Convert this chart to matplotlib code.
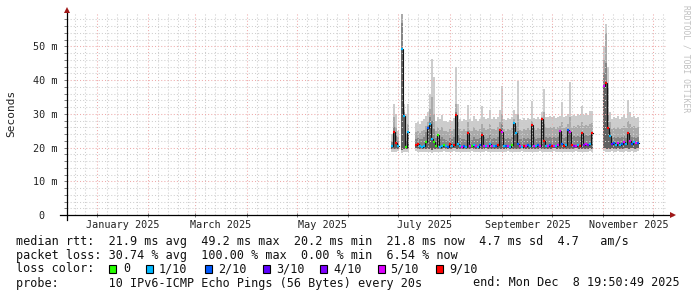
import numpy as np
import pandas as pd
import matplotlib
matplotlib.use('Agg')
import matplotlib.pyplot as plt
import matplotlib.dates as mdates
from matplotlib.ticker import MultipleLocator, FuncFormatter, NullFormatter
from matplotlib.patches import Rectangle

nan = np.nan

# ---------------- data ----------------
END = pd.Timestamp('2025-12-08 19:50:49')
START = END - pd.Timedelta(days=360)
BIN_START = pd.Timestamp('2025-06-26 12:00')
BIN_HOURS = 28.8

loss_labels = ['0', '1/10', '2/10', '3/10', '4/10', '5/10', '9/10']
loss_colors = ['#26ff00', '#00b8ff', '#0059ff', '#5e00ff', '#7e00ff', '#dd00ff', '#ff0000']

# median rtt per bin (ms)
median_ms = [
    20.5, 24.5, 21.3, 20.6, nan, 49.2, 29.5, 20.3, 24.5, nan,
    nan, nan, 20.8, 21.0, 20.6, 20.3, 20.5, 21.5, 25.8, 27.0,
    22.5, 21.5, 20.4, 23.7, 20.2, 20.6, 20.8, 20.4, 20.3, 21.0,
    20.5, 20.8, 29.7, 21.2, 20.5, 20.3, 20.6, 20.2, 24.4, 20.6,
    20.4, 20.7, 20.5, 20.3, 20.8, 23.7, 20.6, 20.4, 20.5, 21.0,
    20.6, 20.4, 20.5, 20.8, 25.2, 24.7, 20.6, 20.4, 20.5, 20.3,
    20.7, 27.4, 24.4, 21.0, 20.5, 20.3, 20.6, 20.4, 20.8, 20.5,
    26.7, 20.6, 20.4, 20.7, 20.5, 28.4, 22.0, 20.6, 20.4, 20.8,
    20.5, 20.6, 20.4, 20.7, 24.8, 21.0, 20.5, 20.7, 25.2, 24.7,
    20.8, 20.6, 20.5, 20.9, 20.6, 24.4, 20.8, 21.0, 20.7, 21.2,
    24.3, nan, nan, nan, nan, nan, 38.3, 39.0, 25.7, 23.4,
    21.0, 21.3, 20.8, 21.4, 20.9, 21.2, 21.5, 21.0, 24.2, 21.8,
    21.2, 21.5, 21.3, 21.4]

# loss class per bin (index into loss_colors, -1 = no data)
loss_idx = [
    1, 6, 6, 1, -1, 1, 1, 0, 1, -1,
    -1, -1, 6, 6, 1, 1, 1, 0, 2, 1,
    1, 0, 0, 0, 1, 1, 0, 1, 2, 6,
    1, 6, 6, 1, 1, 5, 2, 1, 6, 5,
    0, 1, 5, 1, 2, 6, 5, 1, 5, 1,
    5, 1, 2, 6, 6, 5, 1, 2, 5, 1,
    0, 1, 1, 2, 5, 1, 6, 5, 2, 1,
    6, 5, 1, 2, 5, 6, 6, 1, 5, 2,
    6, 5, 1, 5, 5, 2, 6, 1, 2, 5,
    6, 4, 5, 1, 6, 6, 4, 5, 4, 1,
    6, -1, -1, -1, -1, -1, 5, 6, 6, 1,
    3, 2, 1, 5, 1, 2, 5, 1, 6, 5,
    2, 1, 5, 2]

# smoke: 9th ping (top of light band)
p9_ms = [
    24.0, 33.0, 30.0, 25.0, nan, 59.6, 33.0, 30.0, 33.0, nan,
    nan, nan, 27.3, 27.5, 27.0, 27.8, 28.5, 29.5, 30.5, 36.0,
    46.3, 41.0, 28.0, 29.0, 28.5, 29.7, 27.8, 28.0, 27.5, 28.3,
    28.0, 28.8, 44.0, 33.0, 28.5, 28.0, 28.6, 28.2, 32.7, 28.5,
    28.0, 29.5, 28.4, 28.0, 28.6, 32.4, 29.0, 28.5, 28.8, 31.2,
    28.6, 29.0, 28.4, 29.2, 31.0, 38.4, 28.6, 28.2, 28.8, 28.4,
    29.0, 31.0, 30.0, 39.6, 28.5, 28.2, 28.8, 28.3, 28.9, 28.5,
    33.9, 28.7, 28.4, 29.0, 28.6, 30.5, 37.3, 29.2, 29.0, 29.4,
    29.0, 29.3, 28.8, 29.2, 29.5, 33.4, 29.0, 29.3, 30.0, 39.3,
    29.5, 29.8, 29.4, 30.0, 29.6, 32.4, 29.8, 30.2, 29.8, 30.7,
    30.7, nan, nan, nan, nan, nan, 50.0, 56.7, 44.0, 30.5,
    28.5, 29.2, 28.8, 29.5, 28.6, 29.0, 29.8, 28.8, 34.0, 30.5,
    29.0, 29.5, 28.8, 29.2]

# 8th ping (top of medium band)
p8_ms = [
    22.0, 29.0, 26.0, 23.0, nan, 59.5, 31.0, 24.0, 27.0, nan,
    nan, nan, 24.5, 24.8, 24.2, 25.0, 25.2, 26.5, 28.0, 31.5,
    35.0, 30.0, 25.0, 26.0, 25.2, 26.0, 24.8, 25.0, 24.5, 25.5,
    25.0, 25.6, 33.0, 27.5, 25.5, 25.0, 25.4, 25.0, 27.5, 25.2,
    25.0, 26.0, 25.3, 25.0, 25.5, 27.0, 25.8, 25.2, 25.5, 27.0,
    25.4, 25.6, 25.2, 26.0, 27.5, 30.0, 25.4, 25.0, 25.5, 25.2,
    25.8, 28.5, 26.5, 30.0, 25.3, 25.0, 25.6, 25.1, 25.7, 25.3,
    28.0, 25.8, 25.2, 25.8, 25.4, 29.0, 30.5, 26.0, 25.8, 26.2,
    25.8, 26.0, 25.6, 26.0, 26.5, 27.5, 25.8, 26.2, 27.0, 29.0,
    26.2, 26.5, 26.0, 26.6, 26.3, 27.5, 26.5, 26.8, 26.5, 27.0,
    27.2, nan, nan, nan, nan, nan, 46.0, 54.0, 38.0, 27.5,
    25.5, 26.0, 25.6, 26.2, 25.5, 25.8, 26.5, 25.8, 28.0, 27.0,
    26.0, 26.3, 25.8, 26.0]

# 7th ping (top of dark band)
p7_ms = [
    21.5, 26.0, 23.5, 22.0, nan, 57.0, 30.5, 22.0, 25.0, nan,
    nan, nan, 22.5, 22.8, 22.4, 22.6, 23.0, 24.5, 26.5, 29.0,
    28.0, 25.5, 22.8, 24.0, 22.5, 23.0, 22.5, 22.3, 22.0, 22.8,
    22.4, 23.0, 30.5, 24.0, 22.8, 22.5, 22.6, 22.3, 25.0, 22.6,
    22.3, 23.0, 22.5, 22.4, 22.8, 24.5, 23.0, 22.5, 22.8, 24.0,
    22.6, 22.8, 22.5, 23.2, 25.5, 27.0, 22.8, 22.4, 22.7, 22.5,
    23.0, 27.6, 24.6, 25.0, 22.6, 22.4, 22.8, 22.5, 22.9, 22.6,
    27.0, 23.0, 22.6, 22.9, 22.7, 28.6, 27.0, 23.0, 22.8, 23.2,
    22.8, 23.0, 22.7, 23.0, 24.9, 24.0, 22.8, 23.2, 25.4, 25.0,
    23.2, 23.4, 23.0, 23.5, 23.2, 24.6, 23.4, 23.6, 23.3, 23.8,
    24.5, nan, nan, nan, nan, nan, 42.0, 45.0, 30.0, 24.5,
    22.8, 23.0, 22.8, 23.2, 22.7, 23.0, 23.4, 22.9, 24.6, 23.8,
    23.0, 23.2, 22.9, 23.0]

# 2nd ping (bottom of light band)
lo_ms = [
    18.8, 18.6, 18.7, 18.9, nan, 18.5, 18.7, 18.8, 18.6, nan,
    nan, nan, 18.9, 18.8, 18.7, 18.6, 18.8, 18.7, 18.6, 18.8,
    18.5, 18.7, 18.8, 18.6, 18.7, 18.8, 18.9, 18.7, 18.6, 18.8,
    18.7, 18.9, 18.6, 18.7, 18.8, 18.6, 18.7, 18.8, 18.6, 18.7,
    18.9, 18.8, 18.7, 18.6, 18.8, 18.7, 18.8, 18.9, 18.7, 18.6,
    18.8, 18.7, 18.6, 18.8, 18.7, 18.6, 18.8, 18.7, 18.9, 18.8,
    18.6, 18.7, 18.8, 18.6, 18.7, 18.9, 18.8, 18.6, 18.7, 18.8,
    18.7, 18.6, 18.8, 18.7, 18.9, 18.6, 18.7, 18.8, 18.6, 18.7,
    18.8, 18.9, 18.7, 18.6, 18.8, 18.7, 18.6, 18.8, 18.7, 18.6,
    18.8, 18.7, 18.9, 18.6, 18.8, 18.7, 18.6, 18.8, 18.7, 18.9,
    18.8, nan, nan, nan, nan, nan, 18.9, 18.7, 18.8, 18.6,
    18.9, 18.8, 18.7, 18.9, 18.8, 18.6, 18.8, 18.9, 18.7, 18.8,
    18.9, 18.7, 18.8, 18.9]

# 4th ping (bottom of dark bands)
lo2_ms = [
    19.6, 19.5, 19.6, 19.7, nan, 19.4, 19.6, 19.7, 19.5, nan,
    nan, nan, 19.8, 19.7, 19.6, 19.5, 19.7, 19.6, 19.5, 19.7,
    19.4, 19.6, 19.7, 19.5, 19.6, 19.7, 19.8, 19.6, 19.5, 19.7,
    19.6, 19.8, 19.5, 19.6, 19.7, 19.5, 19.6, 19.7, 19.5, 19.6,
    19.8, 19.7, 19.6, 19.5, 19.7, 19.6, 19.7, 19.8, 19.6, 19.5,
    19.7, 19.6, 19.5, 19.7, 19.6, 19.5, 19.7, 19.6, 19.8, 19.7,
    19.5, 19.6, 19.7, 19.5, 19.6, 19.8, 19.7, 19.5, 19.6, 19.7,
    19.6, 19.5, 19.7, 19.6, 19.8, 19.5, 19.6, 19.7, 19.5, 19.6,
    19.7, 19.8, 19.6, 19.5, 19.7, 19.6, 19.5, 19.7, 19.6, 19.5,
    19.7, 19.6, 19.8, 19.5, 19.7, 19.6, 19.5, 19.7, 19.6, 19.8,
    19.7, nan, nan, nan, nan, nan, 19.8, 19.6, 19.7, 19.5,
    19.8, 19.7, 19.6, 19.8, 19.7, 19.5, 19.7, 19.8, 19.6, 19.7,
    19.8, 19.6, 19.7, 19.8]

y_ticks_ms = [0, 10, 20, 30, 40, 50]
x_label_months = ['2025-01', '2025-03', '2025-05', '2025-07', '2025-09', '2025-11']

stats_rows = [
    "median rtt:  21.9 ms avg  49.2 ms max  20.2 ms min  21.8 ms now  4.7 ms sd  4.7   am/s",
    "packet loss: 30.74 % avg  100.00 % max  0.00 % min  6.54 % now",
    "loss color:",
    "probe:       10 IPv6-ICMP Echo Pings (56 Bytes) every 20s",
]
end_text = "end: Mon Dec  8 19:50:49 2025"

# ---------------- figure ----------------
W, H = 697, 297
fig = plt.figure(figsize=(W / 100, H / 100), dpi=100)
fig.patch.set_facecolor('white')
MONO = 'DejaVu Sans Mono'

L, B, PW, PH = 66.5, 82, 600, 202
ax = fig.add_axes([L / W, B / H, PW / W, PH / H])
ax.set_facecolor('white')

x0 = mdates.date2num(START.to_pydatetime())
x1 = mdates.date2num(END.to_pydatetime())
ax.set_xlim(x0, x1)
ax.set_ylim(0, 59.9)

med = np.array(median_ms)
p9 = np.array(p9_ms); p8 = np.array(p8_ms); p7 = np.array(p7_ms)
lo = np.array(lo_ms); lo2 = np.array(lo2_ms)
loss = np.array(loss_idx)
n = len(med)
times = pd.date_range(BIN_START, periods=n, freq=pd.Timedelta(hours=BIN_HOURS))
tl = mdates.date2num(times.to_pydatetime())
bw = BIN_HOURS / 24.0
tr = tl + bw

# smoke bands
for bottom, top, col in [(lo, p9, '#cccccc'), (lo2, p8, '#aaaaaa'),
                         (lo2, p7, '#858585'), (lo2, med, '#606060')]:
    ok = ~np.isnan(top)
    ax.bar(tl[ok], (top - bottom)[ok], bottom=bottom[ok], width=bw, align='edge',
           color=col, linewidth=0, zorder=2)

# median connecting line (black steps)
xs = np.column_stack([tl, tr]).ravel()
ys = np.column_stack([med, med]).ravel()
ax.plot(xs, ys, color='#151515', lw=0.8, zorder=3, solid_joinstyle='miter')

# colored median segments
for ci, col in enumerate(loss_colors):
    m = (loss == ci) & ~np.isnan(med)
    if m.any():
        ax.hlines(med[m], tl[m], tr[m], colors=col, lw=1.6, zorder=4)

# grid
ax.xaxis.set_major_locator(mdates.MonthLocator())
ax.xaxis.set_minor_locator(mdates.DayLocator(bymonthday=[7, 13, 19, 25]))
ax.yaxis.set_major_locator(MultipleLocator(10))
ax.yaxis.set_minor_locator(MultipleLocator(2))
ax.grid(which='major', color='#eeaaaa', linestyle=(0, (1, 2)), linewidth=0.75, zorder=5)
ax.grid(which='minor', color='#cfcfcf', linestyle=(0, (1, 2)), linewidth=0.75, zorder=5)
ax.set_axisbelow(False)

ax.xaxis.set_major_formatter(NullFormatter())
ax.xaxis.set_minor_formatter(NullFormatter())
ax.yaxis.set_major_formatter(FuncFormatter(lambda v, p: '0  ' if v == 0 else f'{v:.0f} m'))
ax.tick_params(axis='y', which='both', direction='out', length=2, width=0.6, color='#666666')
ax.tick_params(axis='x', which='major', direction='inout', length=3, width=0.6, color='#666666')
ax.tick_params(axis='x', which='minor', length=0)
ax.tick_params(axis='y', which='major', labelsize=7.3, pad=4.5, labelcolor='#222222')
for t in ax.get_yticklabels():
    t.set_family(MONO)

for s in ax.spines.values():
    s.set_visible(False)

# axis lines with arrows
ax.plot([-7 / PW, 1 + 6 / PW], [0, 0], transform=ax.transAxes, color='#000000', lw=0.9,
        clip_on=False, zorder=6)
ax.plot([0, 0], [-5 / PH, 1 + 3 / PH], transform=ax.transAxes, color='#000000', lw=0.9,
        clip_on=False, zorder=6)
ax.plot([1 + 6 / PW], [0], marker='>', ms=4.5, color='#a01818', transform=ax.transAxes,
        clip_on=False, zorder=7, markeredgewidth=0)
ax.plot([0], [1 + 3 / PH], marker='^', ms=4.5, color='#a01818', transform=ax.transAxes,
        clip_on=False, zorder=7, markeredgewidth=0)

# month labels
for mstr in x_label_months:
    mid = pd.Timestamp(mstr + '-01') + pd.Timedelta(days=15.5)
    ax.text(mdates.date2num(mid.to_pydatetime()), -10 / PH, pd.Timestamp(mstr + '-01').strftime('%B %Y'),
            transform=ax.get_xaxis_transform(), ha='center', va='center',
            family=MONO, fontsize=7.3, color='#222222')

# y label
fig.text(11 / W, 1 - 113 / H, 'Seconds', rotation=90, ha='center', va='center',
         family=MONO, fontsize=8.0, color='#222222')

# watermark
fig.text(686 / W, 1 - 5 / H, 'RRDTOOL / TOBI OETIKER', rotation=270, ha='center', va='top',
         family=MONO, fontsize=5.8, color='#c0c0c0')

# legend rows
row_y = [241, 255, 269, 283]
for txt, yy in zip(stats_rows, row_y):
    fig.text(16 / W, 1 - yy / H, txt, ha='left', va='center', family=MONO, fontsize=8.5,
             color='#111111')
fig.text(680 / W, 1 - 283 / H, end_text, ha='right', va='center', family=MONO, fontsize=8.5,
         color='#111111')

box_x = [108.5, 146, 204.5, 263, 320, 378, 435.5]
lab_x = [123.5, 159, 218, 276, 333, 390, 449]
for bx, lx, col, lab in zip(box_x, lab_x, loss_colors, loss_labels):
    fig.patches.append(Rectangle((bx / W, 1 - 273 / H), 7 / W, 8 / H, transform=fig.transFigure,
                                 facecolor=col, edgecolor='#000000', linewidth=0.8))
    fig.text(lx / W, 1 - 269 / H, lab, ha='left', va='center', family=MONO, fontsize=8.5,
             color='#111111')

fig.savefig('out.png', dpi=100, facecolor='white')
